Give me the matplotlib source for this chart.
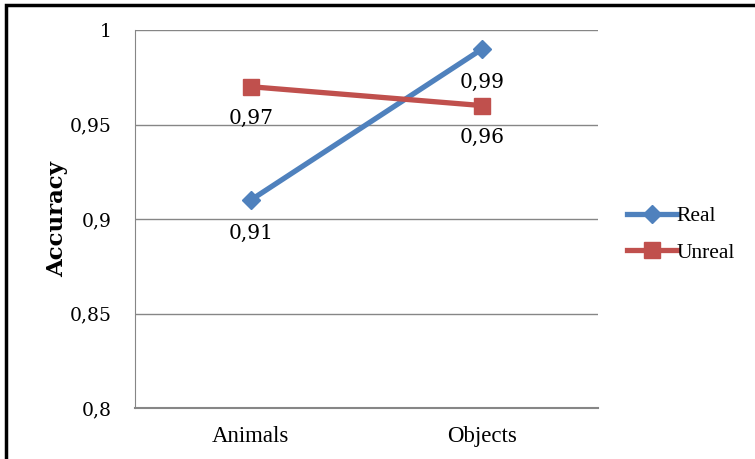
import matplotlib
matplotlib.use("Agg")
import matplotlib.pyplot as plt
from matplotlib.patches import Rectangle

categories = ["Animals", "Objects"]
real = [0.91, 0.99]
unreal = [0.97, 0.96]
yticks = [0.8, 0.85, 0.9, 0.95, 1.0]
ytick_labels = ["0,8", "0,85", "0,9", "0,95", "1"]

W, H = 755, 459
fig = plt.figure(figsize=(W / 100, H / 100), dpi=100)
ax = fig.add_axes([135 / W, 1 - 408 / H, (598 - 135) / W, (408 - 30) / H])

x = list(range(len(categories)))
blue = "#4F81BD"
red = "#C0504D"
ax.plot(x, real, color=blue, lw=3.8, marker="D", markersize=9, label="Real", zorder=3)
ax.plot(x, unreal, color=red, lw=3.8, marker="s", markersize=12, label="Unreal", zorder=3)

serif = ["DejaVu Serif"]
for xi, v in zip(x, real):
    ax.annotate(f"{v:.2f}".replace(".", ","), (xi, v), xytext=(0, -24), textcoords="offset points",
                ha="center", va="center", fontsize=14.5, family=serif)
for xi, v in zip(x, unreal):
    ax.annotate(f"{v:.2f}".replace(".", ","), (xi, v), xytext=(0, -23), textcoords="offset points",
                ha="center", va="center", fontsize=14.5, family=serif)

ax.set_xlim(-0.5, 1.5)
ax.set_ylim(0.8, 1.0)
ax.set_yticks(yticks)
ax.set_yticklabels(ytick_labels, family=serif, fontsize=13.5)
ax.set_xticks(x)
ax.set_xticklabels(categories, family=["Liberation Serif"], fontsize=16.5)
ax.tick_params(axis="both", length=0)
ax.tick_params(axis="y", pad=17)
ax.tick_params(axis="x", pad=13)
ax.grid(axis="y", color="#868686", lw=1)
ax.set_axisbelow(True)
for s in ["top", "right"]:
    ax.spines[s].set_visible(False)
ax.spines["left"].set_color("#868686")
ax.spines["bottom"].set_color("#868686")
ax.spines["bottom"].set_linewidth(1.5)

ax.set_ylabel("Accuracy", family=serif, fontsize=16.5, fontweight="bold", labelpad=1)

leg = fig.legend(loc="upper left", bbox_to_anchor=(608 / W, 1 - 187 / H), frameon=False,
                 prop={"family": "Liberation Serif", "size": 15.5}, handlelength=2.3,
                 handletextpad=0.0, labelspacing=0.75)

fig.add_artist(Rectangle((6 / W, -0.05), 1.2, 1 - 5 / H + 0.05, transform=fig.transFigure,
                         fill=False, edgecolor="black", lw=2.5))

fig.savefig("out.png", dpi=100)
